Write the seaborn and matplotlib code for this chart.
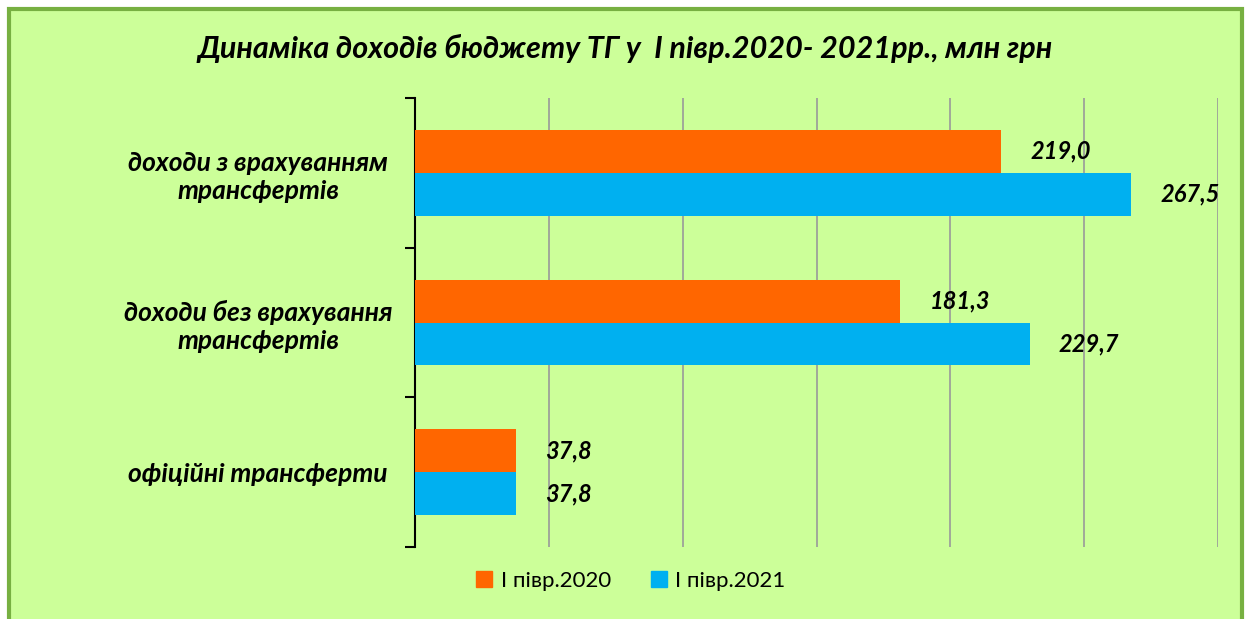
import pandas as pd
import matplotlib.pyplot as plt
import seaborn as sns
from matplotlib.patches import Rectangle

# дані
categories = ['доходи з врахуванням\nтрансфертів',
              'доходи без врахування\nтрансфертів',
              'офіційні трансферти']
periods = ['І півр.2020', 'І півр.2021']
values_2020 = [219.0, 181.3, 37.8]
values_2021 = [267.5, 229.7, 37.8]

df = pd.DataFrame({
    'cat': categories * 2,
    'period': [periods[0]] * 3 + [periods[1]] * 3,
    'value': values_2020 + values_2021,
})

bg = '#CCFF99'
colors = ['#FF6600', '#00B0F0']

sns.set_style('white')
plt.rcParams['font.family'] = ['Lato', 'DejaVu Sans']
plt.rcParams['text.color'] = 'black'
plt.rcParams['ytick.color'] = 'black'
plt.rcParams['ytick.labelcolor'] = 'black'

fig = plt.figure(figsize=(12.51, 6.19), dpi=100, facecolor='white')
# рамка з фоном
fig.patches.append(Rectangle((9 / 1251, -0.05), 1233 / 1251, 1 - 9 / 619 + 0.05,
                             transform=fig.transFigure, facecolor=bg,
                             edgecolor='#77B041', linewidth=3, zorder=-10))

ax = fig.add_axes([415 / 1251, 1 - 547 / 619, (1218 - 415) / 1251, (547 - 98) / 619])
ax.set_facecolor('none')

sns.barplot(data=df, y='cat', x='value', hue='period', orient='h',
            palette=colors, width=0.573, gap=0, saturation=1,
            edgecolor='none', linewidth=0, ax=ax, zorder=3)

ax.set_xlim(0, 300)
ax.set_ylim(2.5, -0.5)
ax.set_xticks([50, 100, 150, 200, 250, 300])
ax.set_xticklabels([])
ax.tick_params(axis='x', length=0)
ax.grid(axis='x', color='#999999', linewidth=1.2)
ax.set_axisbelow(True)
for s in ['top', 'right', 'bottom']:
    ax.spines[s].set_visible(False)
ax.spines['left'].set_color('black')
ax.spines['left'].set_linewidth(1.5)

# засічки між категоріями
ax.set_yticks([-0.5, 0.5, 1.5, 2.5], minor=True)
ax.tick_params(axis='y', which='minor', left=True, length=7, width=1.5, direction='out')
ax.tick_params(axis='y', which='major', left=False, length=0, pad=113)
ax.set_yticklabels(categories, fontsize=19, fontweight='bold', style='italic',
                   ha='center', multialignment='center')
ax.set_xlabel('')
ax.set_ylabel('')

for cont in ax.containers:
    ax.bar_label(cont, labels=[f'{v:.1f}'.replace('.', ',') for v in cont.datavalues],
                 padding=21, fontsize=17, fontweight='bold', style='italic')

ax.legend_.remove()
handles = [Rectangle((0, 0), 1, 1, color=c) for c in colors]
fig.legend(handles, periods, loc='center', bbox_to_anchor=(631 / 1251, 1 - 581 / 619),
           ncol=2, frameon=False, fontsize=16, handlelength=0.7, handleheight=0.7,
           handletextpad=0.4, columnspacing=1.8)

fig.text(625 / 1251, 1 - 48 / 619,
         'Динаміка доходів бюджету ТГ у  І півр.2020- 2021рр., млн грн',
         ha='center', va='center', fontsize=22, fontweight='bold', style='italic')

fig.savefig('out.png', dpi=100, facecolor=fig.get_facecolor())
